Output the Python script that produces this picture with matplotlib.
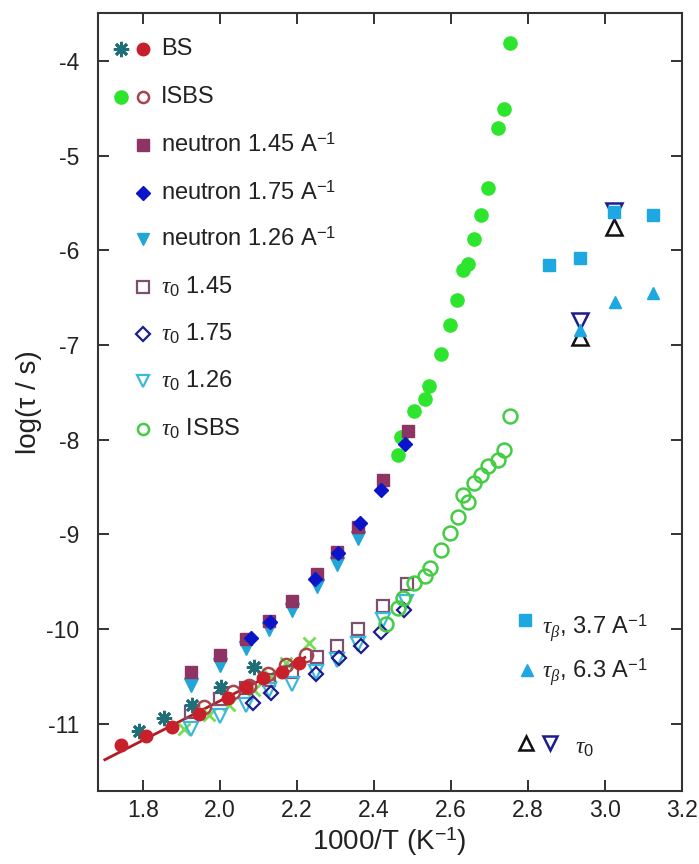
import matplotlib
matplotlib.use("Agg")
import matplotlib.pyplot as plt

plt.rcParams["font.family"] = ["Liberation Sans", "DejaVu Sans"]
plt.rcParams["mathtext.fontset"] = "custom"
plt.rcParams["mathtext.rm"] = "Liberation Sans"
plt.rcParams["mathtext.it"] = "Liberation Serif:italic"
plt.rcParams["mathtext.bf"] = "Liberation Sans:bold"

# ---- data: x = 1000/T (1/K), y = log(tau / s) ----
bs_star_x = [1.790, 1.855, 1.927, 2.003, 2.089]
bs_star_y = [-11.08, -10.94, -10.80, -10.61, -10.40]

bs_dot_x = [1.743, 1.806, 1.875, 1.946, 2.020, 2.067, 2.111, 2.160, 2.206]
bs_dot_y = [-11.22, -11.13, -11.03, -10.90, -10.73, -10.61, -10.52, -10.45, -10.36]

bs_fit_x = [1.700, 2.220]
bs_fit_y = [-11.38, -10.30]

isbs_x = [2.461, 2.470, 2.505, 2.532, 2.544, 2.574, 2.598, 2.615, 2.632,
          2.643, 2.661, 2.678, 2.696, 2.723, 2.738, 2.754]
isbs_y = [-8.16, -7.97, -7.70, -7.57, -7.43, -7.09, -6.79, -6.52, -6.21,
          -6.14, -5.88, -5.63, -5.34, -4.71, -4.51, -3.81]

isbs_open_x = [1.959, 2.033, 2.076, 2.124, 2.171, 2.222]
isbs_open_y = [-10.82, -10.66, -10.60, -10.47, -10.38, -10.27]

cross_x = [1.907, 1.972, 2.024, 2.089, 2.130, 2.171, 2.232]
cross_y = [-11.05, -10.91, -10.80, -10.64, -10.50, -10.36, -10.15]

n145_x = [1.925, 2.000, 2.068, 2.128, 2.187, 2.251, 2.303, 2.357, 2.424, 2.487]
n145_y = [-10.45, -10.27, -10.10, -9.91, -9.70, -9.42, -9.19, -8.92, -8.43, -7.91]

n175_x = [2.080, 2.130, 2.246, 2.305, 2.364, 2.418, 2.480]
n175_y = [-10.09, -9.93, -9.47, -9.20, -8.88, -8.53, -8.04]

n126_x = [1.925, 2.000, 2.068, 2.128, 2.187, 2.251, 2.303, 2.357]
n126_y = [-10.59, -10.38, -10.20, -10.00, -9.80, -9.55, -9.31, -9.04]

t0_145_x = [1.925, 2.000, 2.068, 2.128, 2.186, 2.251, 2.303, 2.357, 2.424, 2.485]
t0_145_y = [-10.88, -10.74, -10.62, -10.54, -10.45, -10.30, -10.18, -10.00, -9.76, -9.52]

t0_175_x = [2.085, 2.132, 2.249, 2.310, 2.366, 2.418, 2.479]
t0_175_y = [-10.78, -10.68, -10.47, -10.31, -10.18, -10.03, -9.80]

t0_126_x = [1.925, 2.000, 2.068, 2.128, 2.186, 2.249, 2.303, 2.357, 2.424, 2.483]
t0_126_y = [-11.06, -10.92, -10.80, -10.64, -10.58, -10.45, -10.33, -10.16, -9.90, -9.71]

t0_isbs_x = [2.431, 2.461, 2.474, 2.505, 2.532, 2.546, 2.574, 2.597, 2.617,
             2.630, 2.643, 2.660, 2.678, 2.697, 2.723, 2.738, 2.754]
t0_isbs_y = [-9.95, -9.78, -9.67, -9.51, -9.44, -9.35, -9.16, -8.98, -8.82,
             -8.58, -8.66, -8.46, -8.37, -8.28, -8.21, -8.11, -7.75]

tb37_x = [2.855, 2.936, 3.024, 3.126]
tb37_y = [-6.15, -6.08, -5.60, -5.63]

tb63_x = [2.936, 3.026, 3.124]
tb63_y = [-6.84, -6.55, -6.45]

t0_up_x = [2.936, 3.024]
t0_up_y = [-6.92, -5.75]
t0_dn_x = [2.936, 3.024]
t0_dn_y = [-6.75, -5.58]

x_ticks = [1.8, 2.0, 2.2, 2.4, 2.6, 2.8, 3.0, 3.2]
y_ticks = [-11, -10, -9, -8, -7, -6, -5, -4]

# ---- colours ----
c_teal = "#1f6f78"
c_red = "#c8202a"
c_green = "#2ee52e"
c_brown = "#a8454c"
c_plum = "#8e3464"
c_blue = "#0a14c8"
c_cyan = "#22a6d6"
c_plum_l = "#7d5070"
c_navy = "#1c1c8c"
c_cyan_l = "#3cb8dc"
c_green_l = "#44cc44"
c_sky = "#1ea8e2"
c_cross = "#77dd55"

fig = plt.figure(figsize=(6.99, 8.64), dpi=100)
ax = fig.add_axes([0.1395, 0.0845, 0.8358, 0.9008])
ax.set_xlim(1.681, 3.198)
ax.set_ylim(-11.71, -3.49)

asterisk = (8, 2, 0)

# fitted line through the BS data
ax.plot(bs_fit_x, bs_fit_y, "-", color="#b01c24", lw=2, zorder=2)

ax.plot(cross_x, cross_y, "x", color=c_cross, ms=9, mew=2, ls="none", zorder=3)
ax.plot(bs_star_x, bs_star_y, marker=asterisk, color=c_teal, ms=11, mew=2, ls="none", zorder=4)
ax.plot(isbs_open_x, isbs_open_y, "o", mfc="none", mec=c_brown, ms=9.5, mew=1.8, ls="none", zorder=4)
ax.plot(bs_dot_x, bs_dot_y, "o", color=c_red, ms=9, ls="none", zorder=5)

ax.plot(t0_145_x, t0_145_y, "s", mfc="none", mec=c_plum_l, ms=9, mew=1.6, ls="none", zorder=3)
ax.plot(t0_126_x, t0_126_y, "v", mfc="none", mec=c_cyan_l, ms=10, mew=1.6, ls="none", zorder=3)
ax.plot(t0_175_x, t0_175_y, "D", mfc="none", mec=c_navy, ms=7, mew=1.6, ls="none", zorder=3)
ax.plot(t0_isbs_x, t0_isbs_y, "o", mfc="none", mec=c_green_l, ms=10, mew=1.8, ls="none", zorder=3)

ax.plot(isbs_x, isbs_y, "o", color=c_green, ms=9.5, ls="none", zorder=3)
ax.plot(n126_x, n126_y, "v", color=c_cyan, ms=10, ls="none", zorder=4)
ax.plot(n145_x, n145_y, "s", color=c_plum, ms=9, ls="none", zorder=4)
ax.plot(n175_x, n175_y, "D", color=c_blue, ms=7.5, ls="none", zorder=5)

ax.plot(t0_up_x, t0_up_y, "^", mfc="none", mec="#111111", ms=12, mew=1.8, ls="none", zorder=4)
ax.plot(t0_dn_x, t0_dn_y, "v", mfc="none", mec=c_navy, ms=12, mew=1.8, ls="none", zorder=4)
ax.plot(tb37_x, tb37_y, "s", color=c_sky, ms=8.5, ls="none", zorder=5)
ax.plot(tb63_x, tb63_y, "^", color=c_sky, ms=9, ls="none", zorder=5)

# ---- axes styling ----
ax.set_xticks(x_ticks)
ax.set_xticklabels([f"{v:.1f}" for v in x_ticks])
ax.set_yticks(y_ticks)
ax.set_yticklabels([str(v) for v in y_ticks])
ax.tick_params(direction="in", length=8, width=1.3, top=True, right=True,
               labelsize=16.5, colors="#222222")
ax.tick_params(axis="x", pad=6)
ax.tick_params(axis="y", pad=13)
for s in ax.spines.values():
    s.set_linewidth(1.5)
    s.set_color("#333333")
ax.set_xlabel("1000/T (K$^{-1}$)", fontsize=20, color="#222222", labelpad=2)
ax.set_ylabel("log(τ / s)", fontsize=20, color="#222222", labelpad=3)

# ---- hand-placed legend (pixel positions converted to axes fractions) ----
L, R, B, T = 97.5, 681.7, 791.0, 12.7


def ax_frac(px, py):
    return (px - L) / (R - L), (B - py) / (B - T)


def leg_mark(px, py, **kw):
    fx, fy = ax_frac(px, py)
    ax.plot([fx], [fy], transform=ax.transAxes, ls="none", clip_on=False, **kw)


def leg_text(px, py, s, size=17):
    fx, fy = ax_frac(px, py)
    ax.text(fx, fy, s, transform=ax.transAxes, ha="left", va="center",
            fontsize=size, color="#222222")


rows = [49.3, 97.5, 145.0, 192.7, 239.3, 286.7, 334.0, 381.3, 429.0]
mx, mx0, tx = 143.3, 120.7, 160.7

leg_mark(mx0, rows[0], marker=asterisk, color=c_teal, ms=11, mew=2)
leg_mark(mx, rows[0], marker="o", color=c_red, ms=9)
leg_text(tx, rows[0], "BS")
leg_mark(mx0, rows[1], marker="o", color=c_green, ms=9.5)
leg_mark(mx, rows[1], marker="o", mfc="none", mec=c_brown, ms=8, mew=1.8)
leg_text(tx, rows[1], "ISBS")
leg_mark(mx, rows[2], marker="s", color=c_plum, ms=8)
leg_text(tx, rows[2], "neutron 1.45 A$^{-1}$")
leg_mark(mx, rows[3], marker="D", color=c_blue, ms=7)
leg_text(tx, rows[3], "neutron 1.75 A$^{-1}$")
leg_mark(mx, rows[4], marker="v", color=c_cyan, ms=9)
leg_text(tx, rows[4], "neutron 1.26 A$^{-1}$")
leg_mark(mx, rows[5], marker="s", mfc="none", mec=c_plum_l, ms=8, mew=1.6)
leg_text(tx, rows[5], r"$\tau_0$ 1.45")
leg_mark(mx, rows[6], marker="D", mfc="none", mec=c_navy, ms=7, mew=1.6)
leg_text(tx, rows[6], r"$\tau_0$ 1.75")
leg_mark(mx, rows[7], marker="v", mfc="none", mec=c_cyan_l, ms=9, mew=1.6)
leg_text(tx, rows[7], r"$\tau_0$ 1.26")
leg_mark(mx, rows[8], marker="o", mfc="none", mec=c_green_l, ms=8, mew=1.8)
leg_text(tx, rows[8], r"$\tau_0$ ISBS")

leg_mark(525, 620, marker="s", color=c_sky, ms=8)
leg_text(541.7, 628, r"$\tau_\beta$, 3.7 A$^{-1}$")
leg_mark(526.7, 670, marker="^", color=c_sky, ms=8.5)
leg_text(541.7, 672, r"$\tau_\beta$, 6.3 A$^{-1}$")
leg_mark(526, 743, marker="^", mfc="none", mec="#111111", ms=10, mew=1.8)
leg_mark(550, 743, marker="v", mfc="none", mec=c_navy, ms=10, mew=1.8)
leg_text(575, 748, r"$\tau_0$")

fig.savefig("out.png", dpi=100)
